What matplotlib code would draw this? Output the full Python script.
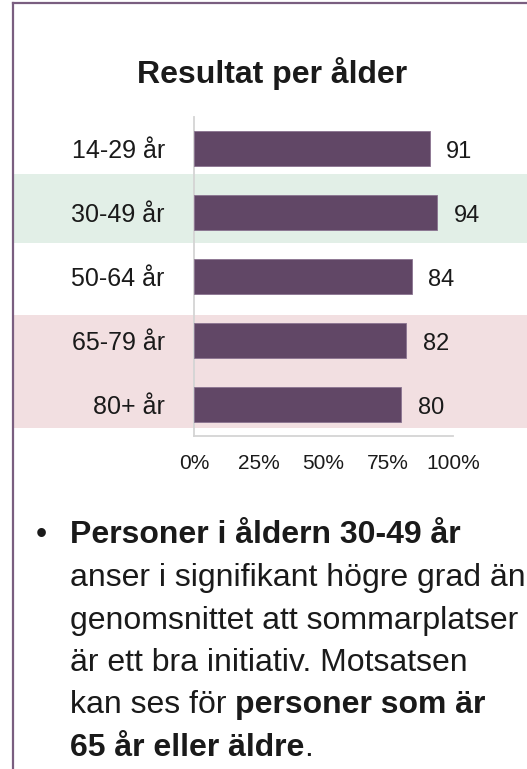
import matplotlib
matplotlib.use('Agg')
import matplotlib.pyplot as plt
import matplotlib.patches as mpatches
from matplotlib.lines import Line2D
from matplotlib.transforms import blended_transform_factory

plt.rcParams['font.family'] = ['Liberation Sans', 'DejaVu Sans']

# Data
AGE_GROUPS = ['14-29 år', '30-49 år', '50-64 år', '65-79 år', '80+ år']
VALUES = [91, 94, 84, 82, 80]
X_TICKS = [0, 25, 50, 75, 100]
X_TICK_LABELS = ['0%', '25%', '50%', '75%', '100%']

BAR_COLOR = '#614766'
FRAME_COLOR = '#7a5e80'
SPINE_COLOR = '#d4d4d4'
TEXT_COLOR = '#1a1a1a'
GREEN_BAND = '#e2efe7'
PINK_BAND = '#f2dfe1'

W, H = 527, 769
fig = plt.figure(figsize=(W / 100, H / 100), dpi=100)
fig.patch.set_facecolor('white')

ax = fig.add_axes([194 / W, 1 - 436 / H, 259 / W, 319 / H])
ax.set_facecolor('none')

y = list(range(len(AGE_GROUPS)))
ax.barh(y, VALUES, height=0.55, color=BAR_COLOR, edgecolor='#8a7390',
        linewidth=0.6, zorder=3)

for yi, v in zip(y, VALUES):
    ax.annotate(str(v), xy=(v, yi), xytext=(12, -2.5), textcoords='offset points',
                ha='left', va='center', fontsize=17, color=TEXT_COLOR)

ax.set_xlim(0, 100)
ax.set_ylim(len(AGE_GROUPS) - 0.5, -0.5)

ax.set_yticks(y)
ax.set_yticklabels(AGE_GROUPS, fontsize=18, color=TEXT_COLOR)
ax.set_xticks(X_TICKS)
ax.set_xticklabels(X_TICK_LABELS, fontsize=15, color=TEXT_COLOR)
ax.tick_params(axis='y', length=0, pad=21)
ax.tick_params(axis='x', length=0, pad=13)

for side in ('top', 'right'):
    ax.spines[side].set_visible(False)
for side in ('left', 'bottom'):
    ax.spines[side].set_color(SPINE_COLOR)
    ax.spines[side].set_linewidth(1.3)
    ax.spines[side].set_zorder(2)

# highlighted bands across the full slide width
band_tr = blended_transform_factory(fig.transFigure, ax.transData)
x0 = 14 / W
ax.add_patch(mpatches.Rectangle((x0, 0.395), 1 - x0, 1.075, transform=band_tr,
                                facecolor=GREEN_BAND, edgecolor='none',
                                clip_on=False, zorder=0))
ax.add_patch(mpatches.Rectangle((x0, 2.61), 1 - x0, 1.77, transform=band_tr,
                                facecolor=PINK_BAND, edgecolor='none',
                                clip_on=False, zorder=0))

# title
fig.text(272 / W, 1 - 74 / H, 'Resultat per ålder', ha='center', va='center',
         fontsize=23, fontweight='bold', color=TEXT_COLOR)

# slide frame
fig.add_artist(Line2D([13 / W, 13 / W], [0, 1 - 3 / H], transform=fig.transFigure,
                      color=FRAME_COLOR, linewidth=1.6))
fig.add_artist(Line2D([13 / W, 1], [1 - 3 / H, 1 - 3 / H], transform=fig.transFigure,
                      color=FRAME_COLOR, linewidth=1.6))

# bullet text
LINES = [
    [('Personer i åldern 30-49 år', 'bold')],
    [('anser i signifikant högre grad än', 'normal')],
    [('genomsnittet att sommarplatser', 'normal')],
    [('är ett bra initiativ. Motsatsen', 'normal')],
    [('kan ses för ', 'normal'), ('personer som är', 'bold')],
    [('65 år eller äldre', 'bold'), ('.', 'normal')],
]
TXT_SIZE = 23
x_text = 70 / W
line_y = [535, 578, 621, 663, 705, 748]
fig.text(41 / W, 1 - line_y[0] / H, '•', ha='center', va='center',
         fontsize=TXT_SIZE, color=TEXT_COLOR)
for ly, parts in zip(line_y, LINES):
    prev = None
    for s, w in parts:
        if prev is None:
            prev = fig.text(x_text, 1 - ly / H, s, ha='left', va='center',
                            fontsize=TXT_SIZE, fontweight=w, color=TEXT_COLOR)
        else:
            prev = ax.annotate(s, xy=(1, 0), xycoords=prev, ha='left', va='bottom',
                               fontsize=TXT_SIZE, fontweight=w, color=TEXT_COLOR,
                               annotation_clip=False)

fig.savefig('out.png', dpi=100)
